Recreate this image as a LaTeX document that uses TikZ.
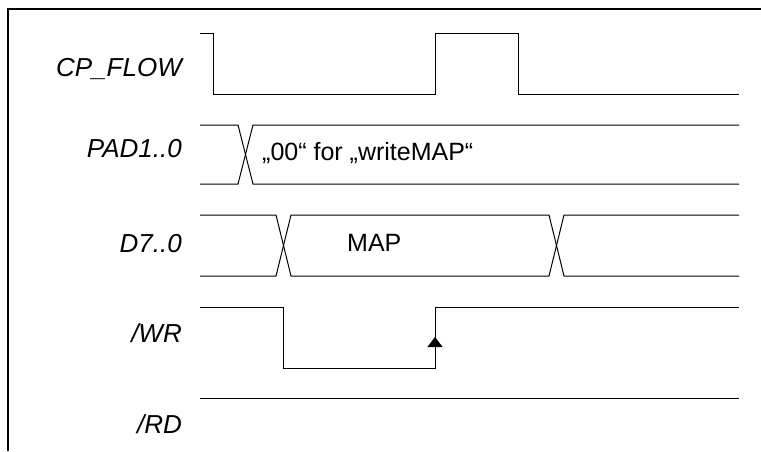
\documentclass[tikz,border=0pt]{standalone}
\usepackage{fontspec}
\setmainfont{Liberation Sans}
\usetikzlibrary{arrows.meta}

\tikzset{
  senal/.style={line width=1pt},
  etiqueta/.style={anchor=base east, inner sep=0pt, font=\fontsize{26}{30}\selectfont\itshape},
  valor/.style={anchor=base west, inner sep=0pt, font=\fontsize{25}{29}\selectfont}
}

\begin{document}
\begin{tikzpicture}[x=1pt,y=-1pt]
        \useasboundingbox (0,0) rectangle (761,451);

        % Marco
        \draw[line width=2.5pt] (8,451) -- (8,9) -- (761,9);

        % Etiquetas
        \node[etiqueta] (cpflow) at (182,76) {CP\_FLOW};
        \node[etiqueta] (pad) at (182,157) {PAD1..0};
        \node[etiqueta] (dat) at (182,252) {D7..0};
        \node[etiqueta] (wr) at (182,342) {/WR};
        \node[etiqueta] (rd) at (182,433) {/RD};

        % CP_FLOW
        \draw[senal] (200,33) -- (213,33) -- (213,94) -- (435,94) -- (435,33) -- (518,33) -- (518,94) -- (739,94);

        % PAD1..0
        \draw[senal] (200,125) -- (238,125) -- (253,184) -- (739,184);
        \draw[senal] (200,184) -- (238,184) -- (253,125) -- (739,125);
        \node[valor] (padval) at (262,160) {„00“ for „writeMAP“};

        % D7..0
        \draw[senal] (200,215) -- (276,215) -- (291,276) -- (549,276) -- (564,215) -- (739,215);
        \draw[senal] (200,276) -- (276,276) -- (291,215) -- (549,215) -- (564,276) -- (739,276);
        \node[valor] (datval) at (347,251) {MAP};

        % /WR
        \draw[senal] (200,307) -- (283,307) -- (283,368) -- (435,368) -- (435,307) -- (739,307);
        \draw[senal,-{Triangle[width=15pt,length=10pt]}] (435,360) -- (435,337);

        % /RD
        \draw[senal] (200,398) -- (739,398);
    \end{tikzpicture}
\end{document}
